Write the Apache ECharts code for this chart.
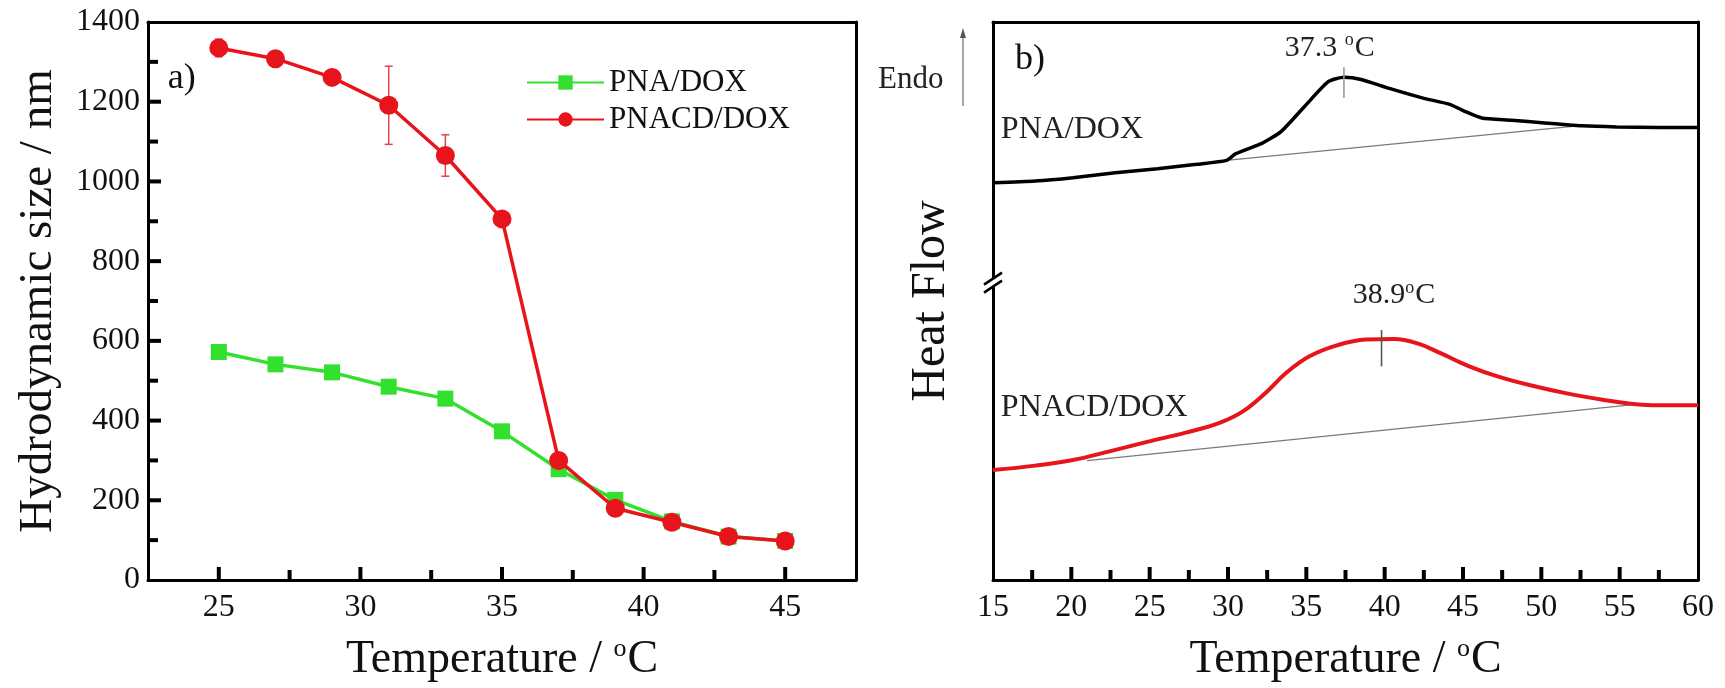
<!DOCTYPE html>
<html>
<head>
<meta charset="utf-8">
<script src="https://cdn.jsdelivr.net/npm/echarts@6/dist/echarts.min.js"></script>
<style>
html,body{margin:0;padding:0;background:#fff;}
#chart{width:1725px;height:688px;}
</style>
</head>
<body>
<div id="chart"></div>
<script>
// ---------- Panel a) data ----------
const tempA = [25, 27, 29, 31, 33, 35, 37, 39, 41, 43, 45];
const pnaSize = [572, 541, 521, 485, 455, 373, 278, 201, 147, 109, 98];
const pnacdSize = [1335, 1308, 1261, 1191, 1065, 906, 300, 180, 145, 109, 98];
const pnacdErr = [22, 10, 8, 98, 52, 8, 10, 8, 8, 8, 8];
const xTicksA = [25, 27.5, 30, 32.5, 35, 37.5, 40, 42.5, 45];
const yTicksA = [100, 200, 300, 400, 500, 600, 700, 800, 900, 1000, 1100, 1200, 1300];

// ---------- Panel b) data (DSC, arbitrary heat-flow units) ----------
const pnaT  = [15, 17.7, 20.1, 22.8, 25.5, 28.0, 29.9, 30.5, 32.2, 33.4, 34.9, 36.4, 37.4, 38.5, 40.3, 42.4, 44.2, 45.1, 46.2, 48.1, 50.2, 52.6, 54.8, 57.5, 60];
const pnaHF = [71.2, 71.5, 72.1, 73.0, 73.7, 74.5, 75.2, 76.4, 78.3, 80.4, 84.9, 89.3, 90.1, 89.7, 88.1, 86.4, 85.2, 84.0, 82.8, 82.4, 81.9, 81.4, 81.2, 81.1, 81.1];
const pnacdT  = [15, 17.7, 20.1, 22.5, 24.9, 27.3, 29.5, 31.0, 32.5, 33.7, 35.2, 37.0, 38.8, 40.6, 42.1, 43.6, 45.4, 47.2, 49.3, 51.7, 53.9, 55.7, 57.5, 60];
const pnacdHF = [19.7, 20.5, 21.5, 23.1, 24.8, 26.4, 28.2, 30.3, 33.8, 37.1, 40.1, 42.1, 43.1, 43.2, 42.4, 40.6, 38.3, 36.5, 34.9, 33.4, 32.3, 31.6, 31.3, 31.3];
const pnaBaseT = [29.9, 52.0];
const pnaBaseHF = [75.2, 81.3];
const pnacdBaseT = [21.0, 56.5];
const pnacdBaseHF = [21.4, 31.6];
const peakT = [37.4, 39.8];
const peakLo = [86.4, 38.3];
const peakHi = [91.9, 44.8];
const peakLabels = ['37.3 {sup|o}C', '38.9{sup|o}C'];
const peakLabelT = [36.5, 40.6];
const peakLabelHF = [95.4, 51.0];
const sampleLabels = ['PNA/DOX', 'PNACD/DOX'];
const sampleLabelHF = [80.8, 30.9];
const breakHF = 53.3;
const xTicksB = [17.5, 20, 22.5, 25, 27.5, 30, 32.5, 35, 37.5, 40, 42.5, 45, 47.5, 50, 52.5, 55, 57.5];

const FONT = "'Liberation Serif', 'Times New Roman', serif";
const zip = (a, b) => a.map((v, i) => [v, b[i]]);
const mult5 = v => Math.abs(v - Math.round(v / 5) * 5) < 1e-6;

const supRichSmall = { sup: { fontSize: 18, fontFamily: FONT, color: '#222', padding: [0, 1, 14, 0] } };
const nameRich = { sup: { fontSize: 26, fontFamily: FONT, color: '#111', padding: [0, 1, 22, 0] } };

const chart = echarts.init(document.getElementById('chart'), null, { renderer: 'canvas' });

const LINE = { color: '#000', width: 3 };

function frameAxis(gridIndex, position, range) {
  return Object.assign({
    gridIndex, position, type: 'value', show: true,
    axisLine: { show: true, onZero: false, lineStyle: LINE },
    axisTick: { show: false }, axisLabel: { show: false },
    splitLine: { show: false }, minorTick: { show: false }
  }, range);
}

// inside tick marks drawn as short segments positioned through the axes' scales
function tickSeries(xi, yi, data, dir) {
  return {
    name: 'ticks' + xi + dir, type: 'custom', xAxisIndex: xi, yAxisIndex: yi, z: 20, clip: false,
    silent: true, data,
    renderItem: (params, api) => {
      const p = api.coord([api.value(0), api.value(1)]);
      const len = api.value(2);
      return {
        type: 'rect',
        shape: dir === 'x'
          ? { x: p[0] - 2, y: p[1] - len, width: 4, height: len }
          : { x: p[0], y: p[1] - 2, width: len, height: 4 },
        style: { fill: '#000' }
      };
    }
  };
}

const option = {
  backgroundColor: '#fff',
  animation: false,
  grid: [
    { left: 148, top: 22, width: 708, height: 564, show: false },
    { left: 993, top: 22, width: 705, height: 564, show: false }
  ],
  legend: {
    data: ['PNA/DOX', 'PNACD/DOX'],
    orient: 'vertical',
    left: 521, top: 62,
    itemWidth: 77, itemHeight: 18, itemGap: 6,
    textStyle: { fontFamily: FONT, fontSize: 31, color: '#111' }
  },
  xAxis: [
    {
      gridIndex: 0, type: 'value', position: 'bottom', min: 22.5, max: 47.5, interval: 2.5,
      axisLine: { show: true, onZero: false, lineStyle: LINE },
      axisTick: { show: false },
      splitLine: { show: false },
      axisLabel: { fontFamily: FONT, fontSize: 32, color: '#111', margin: 12, formatter: v => mult5(v) ? String(v) : '' },
      name: 'Temperature / {sup|o}C', nameLocation: 'middle', nameGap: 56,
      nameTextStyle: { fontFamily: FONT, fontSize: 46, color: '#111', rich: nameRich }
    },
    {
      gridIndex: 1, type: 'value', position: 'bottom', min: 15, max: 60, interval: 2.5,
      axisLine: { show: true, onZero: false, lineStyle: LINE },
      axisTick: { show: false },
      splitLine: { show: false },
      axisLabel: { fontFamily: FONT, fontSize: 32, color: '#111', margin: 12, formatter: v => mult5(v) ? String(v) : '' },
      name: 'Temperature / {sup|o}C', nameLocation: 'middle', nameGap: 56,
      nameTextStyle: { fontFamily: FONT, fontSize: 46, color: '#111', rich: nameRich }
    },
    frameAxis(0, 'top', { min: 22.5, max: 47.5 }),
    frameAxis(1, 'top', { min: 15, max: 60 })
  ],
  yAxis: [
    {
      gridIndex: 0, type: 'value', position: 'left', min: 0, max: 1400, interval: 200,
      axisLine: { show: true, onZero: false, lineStyle: LINE },
      axisTick: { show: false },
      splitLine: { show: false },
      axisLabel: { fontFamily: FONT, fontSize: 32, color: '#111', margin: 8, formatter: v => String(v) },
      name: 'Hydrodynamic size / nm', nameLocation: 'middle', nameGap: 86,
      nameTextStyle: { fontFamily: FONT, fontSize: 47, color: '#111' }
    },
    {
      gridIndex: 1, type: 'value', position: 'left', min: 0, max: 100,
      axisLine: { show: true, onZero: false, lineStyle: LINE },
      axisTick: { show: false }, axisLabel: { show: false }, splitLine: { show: false },
      name: 'Heat Flow', nameLocation: 'middle', nameGap: 38,
      nameTextStyle: { fontFamily: FONT, fontSize: 48, color: '#111' }
    },
    frameAxis(0, 'right', { min: 0, max: 1400 }),
    frameAxis(1, 'right', { min: 0, max: 100 })
  ],
  series: [
    tickSeries(0, 0, xTicksA.map(v => [v, 0, mult5(v) ? 13 : 10]), 'x'),
    tickSeries(0, 0, yTicksA.map(v => [22.5, v, v % 200 === 0 ? 13 : 10]), 'y'),
    tickSeries(1, 1, xTicksB.map(v => [v, 0, mult5(v) ? 13 : 10]), 'x'),
    {
      name: 'PNACD err', type: 'custom', xAxisIndex: 0, yAxisIndex: 0, z: 3,
      data: tempA.map((t, i) => [t, pnacdSize[i], pnacdErr[i]]),
      renderItem: (params, api) => {
        const x = api.value(0), y = api.value(1), e = api.value(2);
        const top = api.coord([x, y + e]);
        const bot = api.coord([x, y - e]);
        const cw = 4;
        const st = { stroke: '#e8434a', lineWidth: 1.5 };
        return { type: 'group', children: [
          { type: 'line', shape: { x1: top[0], y1: top[1], x2: bot[0], y2: bot[1] }, style: st },
          { type: 'line', shape: { x1: top[0] - cw, y1: top[1], x2: top[0] + cw, y2: top[1] }, style: st },
          { type: 'line', shape: { x1: bot[0] - cw, y1: bot[1], x2: bot[0] + cw, y2: bot[1] }, style: st }
        ] };
      }
    },
    {
      name: 'PNA/DOX', type: 'line', xAxisIndex: 0, yAxisIndex: 0, z: 4,
      data: zip(tempA, pnaSize),
      symbol: 'rect', symbolSize: 16,
      lineStyle: { color: '#33e02e', width: 3.5 },
      itemStyle: { color: '#33e02e' }
    },
    {
      name: 'PNACD/DOX', type: 'line', xAxisIndex: 0, yAxisIndex: 0, z: 5,
      data: zip(tempA, pnacdSize),
      symbol: 'circle', symbolSize: 19,
      lineStyle: { color: '#e8141c', width: 3.5 },
      itemStyle: { color: '#e8141c' }
    },
    {
      name: 'a-label', type: 'custom', xAxisIndex: 0, yAxisIndex: 0, z: 6,
      data: [[23.2, 1258]],
      renderItem: (params, api) => {
        const p = api.coord([api.value(0), api.value(1)]);
        return { type: 'text', x: p[0], y: p[1], style: { text: 'a)', font: '36px ' + FONT, fill: '#111', textAlign: 'left', textVerticalAlign: 'middle' } };
      }
    },
    // ----- panel b -----
    {
      name: 'PNA base', type: 'line', xAxisIndex: 1, yAxisIndex: 1, z: 2,
      data: zip(pnaBaseT, pnaBaseHF), symbol: 'none',
      lineStyle: { color: '#7a7a7a', width: 1.3 }
    },
    {
      name: 'PNACD base', type: 'line', xAxisIndex: 1, yAxisIndex: 1, z: 2,
      data: zip(pnacdBaseT, pnacdBaseHF), symbol: 'none',
      lineStyle: { color: '#7a7a7a', width: 1.3 }
    },
    {
      name: 'PNA DSC', type: 'line', xAxisIndex: 1, yAxisIndex: 1, z: 4,
      data: zip(pnaT, pnaHF), symbol: 'none', smooth: 0.2,
      lineStyle: { color: '#000', width: 3.5 }
    },
    {
      name: 'PNACD DSC', type: 'line', xAxisIndex: 1, yAxisIndex: 1, z: 4,
      data: zip(pnacdT, pnacdHF), symbol: 'none', smooth: 0.4,
      lineStyle: { color: '#e8141c', width: 4 }
    },
    {
      name: 'peaks', type: 'custom', xAxisIndex: 1, yAxisIndex: 1, z: 5,
      data: peakT.map((t, i) => [t, peakLo[i], peakHi[i], peakLabelT[i], peakLabelHF[i], i]),
      renderItem: (params, api) => {
        const t = api.value(0);
        const lo = api.coord([t, api.value(1)]);
        const hi = api.coord([t, api.value(2)]);
        const lp = api.coord([api.value(3), api.value(4)]);
        const idx = api.value(5);
        return { type: 'group', children: [
          { type: 'line', shape: { x1: lo[0], y1: lo[1], x2: hi[0], y2: hi[1] }, style: { stroke: idx === 0 ? '#9a9a9a' : '#555', lineWidth: 1.6 } },
          { type: 'text', x: lp[0], y: lp[1], style: { text: peakLabels[idx], rich: supRichSmall, font: '30px ' + FONT, fill: '#222', textAlign: 'center', textVerticalAlign: 'middle' } }
        ] };
      }
    },
    {
      name: 'sample labels', type: 'custom', xAxisIndex: 1, yAxisIndex: 1, z: 5,
      data: sampleLabelHF.map((v, i) => [15.5, v, i]),
      renderItem: (params, api) => {
        const p = api.coord([api.value(0), api.value(1)]);
        return { type: 'text', x: p[0], y: p[1], style: { text: sampleLabels[api.value(2)], font: '32px ' + FONT, fill: '#222', textAlign: 'left', textVerticalAlign: 'middle' } };
      }
    },
    {
      name: 'b-label', type: 'custom', xAxisIndex: 1, yAxisIndex: 1, z: 6,
      data: [[16.4, 93.3]],
      renderItem: (params, api) => {
        const p = api.coord([api.value(0), api.value(1)]);
        return { type: 'text', x: p[0], y: p[1], style: { text: 'b)', font: '36px ' + FONT, fill: '#111', textAlign: 'left', textVerticalAlign: 'middle' } };
      }
    },
    {
      name: 'axis break', type: 'custom', xAxisIndex: 1, yAxisIndex: 1, z: 10, clip: false,
      data: [[15, breakHF]],
      renderItem: (params, api) => {
        const p = api.coord([api.value(0), api.value(1)]);
        const x = p[0], y = p[1];
        const w = 9, h = 6, g = 4;
        return { type: 'group', children: [
          { type: 'polygon', shape: { points: [[x - w, y - g + h], [x + w, y - g - h], [x + w, y + g - h], [x - w, y + g + h]] }, style: { fill: '#fff' } },
          { type: 'line', shape: { x1: x - w, y1: y - g + h, x2: x + w, y2: y - g - h }, style: { stroke: '#000', lineWidth: 2.5 } },
          { type: 'line', shape: { x1: x - w, y1: y + g + h, x2: x + w, y2: y + g - h }, style: { stroke: '#000', lineWidth: 2.5 } }
        ] };
      }
    }
  ],
  graphic: [
    { type: 'text', left: 878, top: 64, style: { text: 'Endo', font: '31px ' + FONT, fill: '#222' } },
    { type: 'line', shape: { x1: 963, y1: 34, x2: 963, y2: 106 }, style: { stroke: '#8a8a8a', lineWidth: 1.5 } },
    { type: 'polygon', shape: { points: [[963, 28], [960, 38], [966, 38]] }, style: { fill: '#555' } }
  ]
};

chart.setOption(option);
</script>
</body>
</html>
